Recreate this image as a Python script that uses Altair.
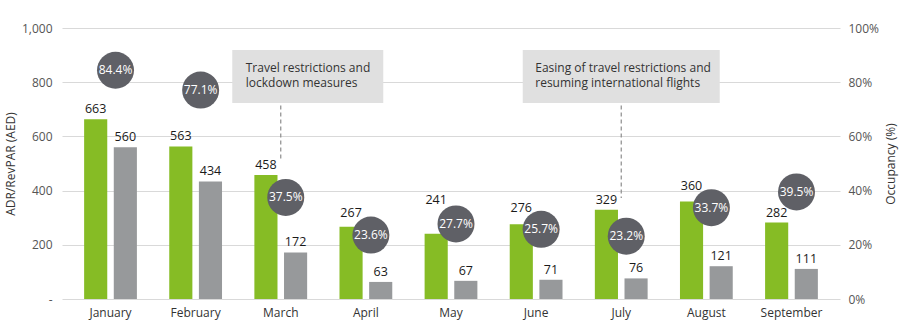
import altair as alt
import pandas as pd

months = ["January", "February", "March", "April", "May", "June", "July", "August", "September"]
adr = [663, 563, 458, 267, 241, 276, 329, 360, 282]
revpar = [560, 434, 172, 63, 67, 71, 76, 121, 111]
occupancy = [84.4, 77.1, 37.5, 23.6, 27.7, 25.7, 23.2, 33.7, 39.5]

ann_months = ["March", "July"]
ann_texts = [
    ["Travel restrictions and", "lockdown measures"],
    ["Easing of travel restrictions and", "resuming international flights"],
]

FONT = "Open Sans"
GREEN = "#86bc25"
GREY = "#97999b"
CIRCLE = "#5f6066"
PLOT_H = 271

# pixel nudges for value labels that sit beside occupancy bubbles
label_nudge_px = {("April", "ADR"): 4, ("May", "ADR"): 24, ("June", "ADR"): 6, ("August", "ADR"): 5}

rows = []
for series, vals in (("ADR", adr), ("RevPAR", revpar)):
    for m, v in zip(months, vals):
        rows.append({"month": m, "series": series, "value": v,
                     "label_y": v + label_nudge_px.get((m, series), 0) * 1000 / PLOT_H})
bars_df = pd.DataFrame(rows)
occ_df = pd.DataFrame({"month": months, "occ": occupancy,
                       "label": [f"{o:.1f}%" for o in occupancy]})

xscale = alt.Scale(domain=months, paddingInner=0.38, paddingOuter=0.26)
x_axis = alt.Axis(title=None, labelAngle=0, ticks=False, domain=False, labelPadding=8,
                  labelFontSize=12, labelColor="#333333", labelFont=FONT)
X = alt.X("month:N", scale=xscale, axis=x_axis, sort=months)
yscale = alt.Scale(domain=[0, 1000])
left_axis = alt.Axis(values=[0, 200, 400, 600, 800, 1000],
                     labelExpr="datum.value == 0 ? '-' : format(datum.value, ',')",
                     grid=True, gridColor="#d9d9d9", domain=False, ticks=False,
                     labelPadding=10, labelColor="#555555", labelFontSize=12, labelFont=FONT,
                     title="ADR/RevPAR (AED)", titleFont=FONT, titleFontSize=12,
                     titleFontWeight="normal", titleColor="#333333", titlePadding=4)
XO = alt.XOffset("series:N", scale=alt.Scale(paddingInner=0.22))

base = alt.Chart(bars_df)
bars = base.mark_bar().encode(
    x=X,
    xOffset=XO,
    y=alt.Y("value:Q", scale=yscale, axis=left_axis),
    color=alt.Color("series:N", scale=alt.Scale(domain=["ADR", "RevPAR"], range=[GREEN, GREY]), legend=None),
)
bar_text = base.mark_text(baseline="bottom", dy=-3, fontSize=12.5, font=FONT, color="#1a1a1a").encode(
    x=X,
    xOffset=XO,
    y=alt.Y("label_y:Q", scale=yscale, axis=None),
    text="value:Q",
)

ann_layers = []
ann_specs = [
    # box width, box xOffset, text xOffset, rule bottom
    (151, 27, -35, 509),
    (197, 0, -86, 373),
]
for m, t, (w, bx, tx, rb) in zip(ann_months, ann_texts, ann_specs):
    d = pd.DataFrame([{"month": m, "top": 919, "bottom": 723, "ltop": 714, "lbot": rb,
                       "ty": 852, "text": t}])
    c = alt.Chart(d)
    ann_layers.append(c.mark_rect(color="#e0e0e0", width=w, xOffset=bx).encode(
        x=X, y=alt.Y("top:Q", scale=yscale, axis=None), y2="bottom:Q"))
    ann_layers.append(c.mark_rule(color="#8c8c8c", strokeDash=[4, 3], strokeWidth=1.2).encode(
        x=X, y=alt.Y("ltop:Q", scale=yscale, axis=None), y2="lbot:Q"))
    ann_layers.append(c.mark_text(align="left", baseline="middle", lineHeight=15, xOffset=tx,
                                  fontSize=12, font=FONT, color="#333333").encode(
        x=X, y=alt.Y("ty:Q", scale=yscale, axis=None), text="text"))

right_axis = alt.Axis(orient="right", values=[0, 20, 40, 60, 80, 100],
                      labelExpr="datum.value + '%'", grid=False, domain=False, ticks=False,
                      labelPadding=8, labelColor="#555555", labelFontSize=12, labelFont=FONT,
                      title="Occupancy (%)", titleFont=FONT, titleFontSize=12,
                      titleFontWeight="normal", titleColor="#333333", titleAngle=270,
                      titlePadding=19)
oscale = alt.Scale(domain=[0, 100])
occ_base = alt.Chart(occ_df)
circles = occ_base.mark_circle(size=1369, color=CIRCLE, opacity=1, xOffset=5).encode(
    x=X, y=alt.Y("occ:Q", scale=oscale, axis=right_axis))
circle_text = occ_base.mark_text(color="white", fontSize=12, font=FONT, xOffset=5,
                                 baseline="middle").encode(
    x=X, y=alt.Y("occ:Q", scale=oscale, axis=None), text="label:N")

chart = alt.layer(bars, bar_text, *ann_layers, circles, circle_text).resolve_scale(
    y="independent").properties(
    width=778, height=271,
    autosize=alt.AutoSizeParams(type="none"),
    padding={"left": 62, "top": 28, "right": 65, "bottom": 28},
    background="white",
).configure_view(stroke=None)

chart.save("out.html", embed_options={"renderer": "svg", "actions": False})
